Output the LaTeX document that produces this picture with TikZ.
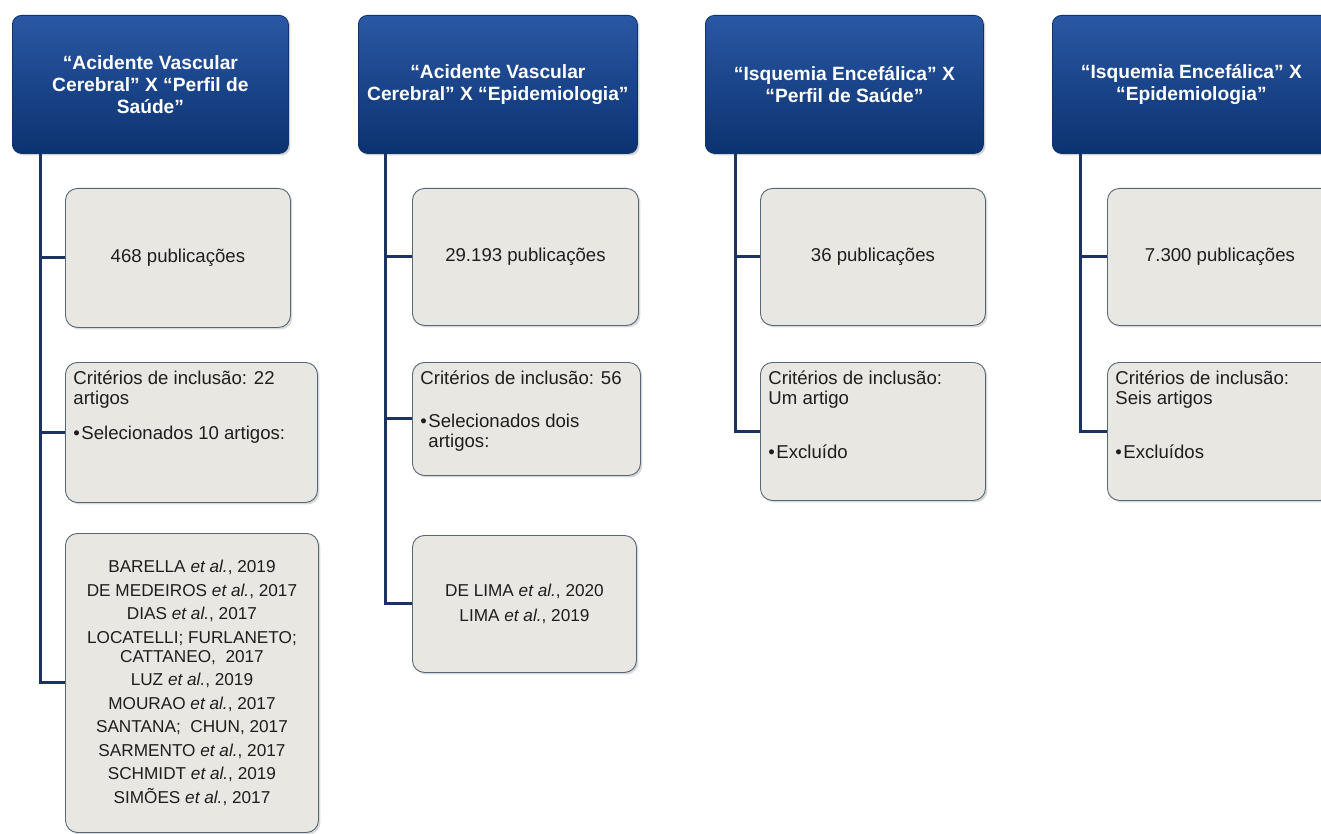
\documentclass[tikz,border=0pt]{standalone}
\usepackage{fontspec}
\setmainfont{Liberation Sans}
\usetikzlibrary{shadows}

\definecolor{hdtop}{HTML}{2A58A4}
\definecolor{hdmid}{HTML}{134288}
\definecolor{hdbot}{HTML}{0C3270}
\definecolor{leaffill}{HTML}{E9E7E1}
\definecolor{leafline}{HTML}{56677A}
\definecolor{linkcol}{HTML}{1C3260}
\definecolor{txtcol}{HTML}{1E1E1E}

\newcommand{\etal}{\textit{et al.}}
\newcommand{\bul}{\makebox[8pt][l]{\textbullet}}

\tikzset{
  head/.style={draw=hdbot, line width=0.8pt, rounded corners=9pt,
    top color=hdtop, middle color=hdmid, bottom color=hdbot,
    minimum height=138pt, anchor=north west, align=center, inner xsep=3pt,
    text=white, font=\bfseries\fontsize{19.2}{22}\selectfont,
    drop shadow={shadow xshift=2pt, shadow yshift=-2pt, opacity=0.35}},
  leaf/.style={draw=leafline, line width=0.9pt, rounded corners=12pt,
    fill=leaffill, anchor=north west, inner sep=8pt, align=center,
    text=txtcol, font=\fontsize{18.6}{20}\selectfont,
    drop shadow={shadow xshift=2pt, shadow yshift=-2pt, opacity=0.3}},
  link/.style={draw=linkcol, line width=3pt}
}

\begin{document}
\begin{tikzpicture}[x=1pt, y=-1pt]
  \useasboundingbox (0,0) rectangle (1321,834);
  \clip (0,0) rectangle (1321,834);

  % headers
  \node[head, minimum width=276pt] (h1) at (12,15) {“Acidente Vascular\\Cerebral” X “Perfil de\\Saúde”};
  \node[head, minimum width=279pt] (h2) at (358,15) {“Acidente Vascular\\Cerebral” X “Epidemiologia”};
  \node[head, minimum width=278pt] (h3) at (705,15) {“Isquemia Encefálica” X\\“Perfil de Saúde”};
  \node[head, minimum width=278pt] (h4) at (1052,15) {“Isquemia Encefálica” X\\“Epidemiologia”};

  % column 1
  \node[leaf, minimum width=225pt, minimum height=139pt] (a1) at (65,188) {468 publicações};
  \node[leaf] (a2) at (65,362) {\parbox[t][124pt][t]{236pt}{\raggedright
    Critérios de inclusão: 22\\artigos\\[15pt]\bul Selecionados 10 artigos:}};
  \node[leaf, minimum width=253pt, minimum height=299pt, font=\fontsize{17.2}{19}\selectfont] (a3) at (65,533) {%
    BARELLA \etal, 2019\\[4.5pt]
    DE MEDEIROS \etal, 2017\\[4.5pt]
    DIAS \etal, 2017\\[4.5pt]
    LOCATELLI; FURLANETO;\\CATTANEO,~ 2017\\[4.5pt]
    LUZ \etal, 2019\\[4.5pt]
    MOURAO \etal, 2017\\[4.5pt]
    SANTANA;~ CHUN, 2017\\[4.5pt]
    SARMENTO \etal, 2017\\[4.5pt]
    SCHMIDT \etal, 2019\\[4.5pt]
    SIMÕES \etal, 2017};

  % column 2
  \node[leaf, minimum width=226pt, minimum height=137pt] (b1) at (412,188) {29.193 publicações};
  \node[leaf] (b2) at (412,362) {\parbox[t][97pt][t]{212pt}{\raggedright
    Critérios de inclusão: 56\\[23pt]\bul Selecionados dois\\\hspace*{8pt}artigos:}};
  \node[leaf, minimum width=224pt, minimum height=137pt, font=\fontsize{17.2}{19}\selectfont] (b3) at (412,535) {%
    DE LIMA \etal, 2020\\[6pt]LIMA \etal, 2019};

  % column 3
  \node[leaf, minimum width=225pt, minimum height=137pt] (c1) at (760,188) {36 publicações};
  \node[leaf] (c2) at (760,362) {\parbox[t][122pt][t]{209pt}{\raggedright
    Critérios de inclusão:\\Um artigo\\[34pt]\bul Excluído}};

  % column 4
  \node[leaf, minimum width=225pt, minimum height=137pt] (d1) at (1107,188) {7.300 publicações};
  \node[leaf] (d2) at (1107,362) {\parbox[t][122pt][t]{209pt}{\raggedright
    Critérios de inclusão:\\Seis artigos\\[34pt]\bul Excluídos}};

  % connectors
  \draw[link] (h1.south west) ++(28,0) coordinate (s1) |- (a3.west);
  \draw[link] (s1) |- (a1.west);
  \draw[link] (s1) |- (a2.west);
  \draw[link] (h2.south west) ++(27,0) coordinate (s2) |- (b3.west);
  \draw[link] (s2) |- (b1.west);
  \draw[link] (s2) |- (b2.west);
  \draw[link] (h3.south west) ++(30,0) coordinate (s3) |- (c2.west);
  \draw[link] (s3) |- (c1.west);
  \draw[link] (h4.south west) ++(28,0) coordinate (s4) |- (d2.west);
  \draw[link] (s4) |- (d1.west);
\end{tikzpicture}
\end{document}
